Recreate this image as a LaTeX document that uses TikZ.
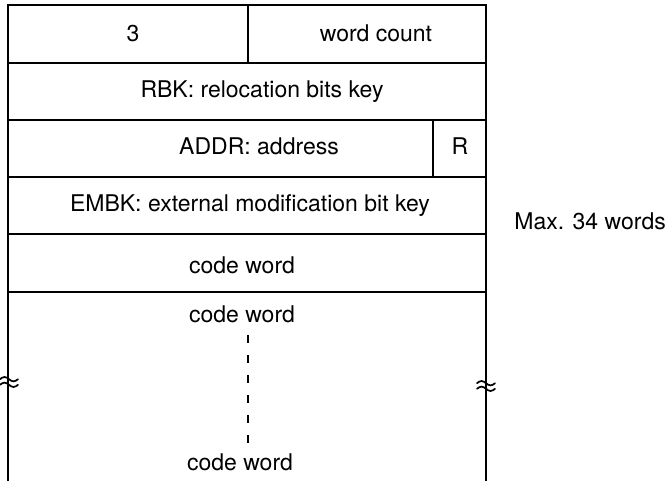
\documentclass[tikz,border=0pt]{standalone}
\usepackage{fontspec}
\setmainfont{TeX Gyre Heros}
\begin{document}
\begin{tikzpicture}[x=1pt,y=-1pt,
  rule/.style={line width=1.2pt, black},
  label/.style={anchor=base, inner sep=0pt, font=\fontsize{23}{27}\selectfont},
  wave/.style={line width=1.7pt, line cap=round}]
  \useasboundingbox (0,0) rectangle (667,481);

  % outer frame, open at the bottom
  \coordinate (tl) at (8,5);
  \coordinate (tr) at (486,5);
  \coordinate (bl) at (8,481);
  \coordinate (br) at (486,481);
  \draw[rule] (bl) -- (tl) -- (tr) -- (br);

  % word boundaries
  \foreach \y in {63,120,177,234,292}
    \draw[rule] (8,\y) -- (486,\y);

  % field dividers
  \draw[rule] (248,5) -- (248,63);
  \draw[rule] (433,120) -- (433,177);

  % field texts
  \node[label] (type)  at (133,42)  {3};
  \node[label] (count) at (376,42)  {word count};
  \node[label] (rbk)   at (262,98)  {RBK: relocation bits key};
  \node[label] (addr)  at (259,155) {ADDR: address};
  \node[label] (rflag) at (460,155) {R};
  \node[label] (embk)  at (250,212) {EMBK: external modification bit key};
  \node[label] (code1) at (242,273) {code word};
  \node[label] (code2) at (242,323) {code word};
  \node[label] (code3) at (240,470) {code word};
  \node[label, anchor=base east] (max) at (666,230) {Max. 34 words};

  % continuation between the code words
  \coordinate (dtop) at (248,335);
  \coordinate (dbot) at (248,447);
  \draw[line width=1.3pt, dash pattern=on 8pt off 12pt] (dtop) -- (dbot);

  % break marks on the side lines: two tilde waves each
  \foreach \cx/\cy in {9/382, 486/386} {
    \foreach \dy in {-2.8, 2.8}
      \draw[wave] (\cx-9,\cy+\dy) sin (\cx-4.5,\cy+\dy-2.2) cos (\cx,\cy+\dy)
                  sin (\cx+4.5,\cy+\dy+2.2) cos (\cx+9,\cy+\dy);
  }
\end{tikzpicture}
\end{document}
